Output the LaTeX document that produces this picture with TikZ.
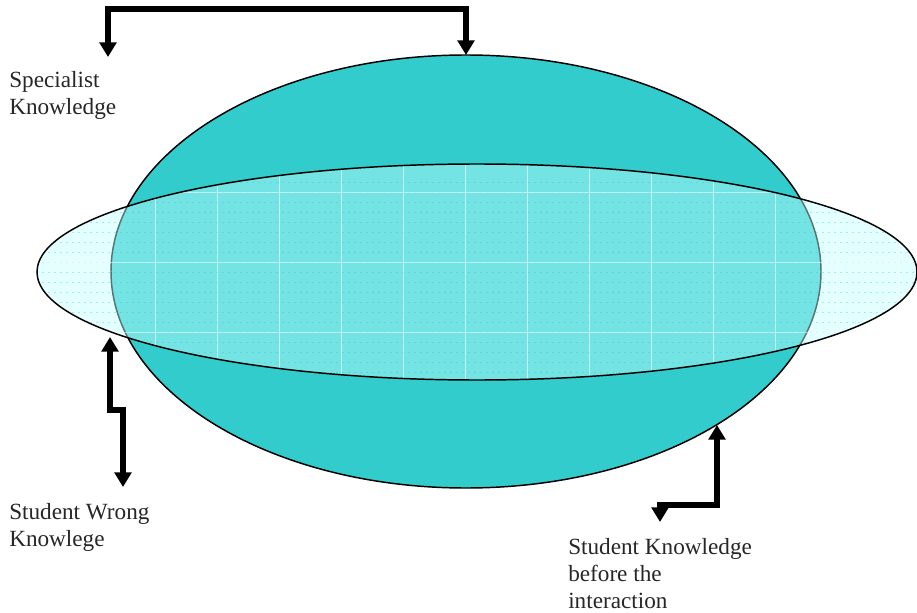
\documentclass[tikz,border=0pt]{standalone}
\usepackage{fontspec}
\setmainfont{Liberation Serif}
\usetikzlibrary{arrows.meta,shapes.geometric}
\definecolor{tealA}{HTML}{33CCCC}
\definecolor{lightC}{RGB}{196,255,255}
\definecolor{gridC}{HTML}{2EC4C4}
\begin{document}
\begin{tikzpicture}[x=0.75pt,y=-0.75pt,
  conn/.style={line width=3.8pt, line join=miter, {Triangle[width=12.5pt,length=11pt]}-{Triangle[width=12.5pt,length=11pt]}},
  lbl/.style={anchor=north west, inner sep=0pt, align=left,
              font=\fontsize{17.4}{20.2}\selectfont, text=black!85},
  oval/.style={ellipse, inner sep=0pt, outer sep=0pt, line width=1.1pt}]
\useasboundingbox (0,0) rectangle (917,613);
% big ellipse (specialist knowledge)
\node[oval, draw, fill=tealA, minimum width=532.5pt, minimum height=324.75pt] (big) at (466,271.5) {};
% flat ellipse (student knowledge)
\node[oval, fill=lightC, fill opacity=0.45, minimum width=660pt, minimum height=162pt] (flat) at (477,272) {};
\begin{scope}
  \clip (477,272) ellipse [x radius=440, y radius=108];
  \foreach \y in {182,192,...,372}
    \draw[gridC, opacity=0.35, line width=0.6pt, dash pattern=on 1.5pt off 3pt] (30,\y) -- (917,\y);
  \foreach \y in {192,262,332}
    \draw[white, opacity=0.55, line width=0.6pt] (30,\y) -- (917,\y);
  \foreach \x in {155,217,...,900}
    \draw[white, opacity=0.55, line width=0.7pt] (\x,150) -- (\x,390);
\end{scope}
\node[oval, draw, minimum width=660pt, minimum height=162pt] (flatO) at (477,272) {};
% labels
\node[lbl] (spec) at (9,71) {Specialist\\Knowledge};
\node[lbl] (wrong) at (9,503) {Student Wrong\\Knowlege};
\node[lbl] (before) at (568,538) {Student Knowledge\\before the\\interaction};
% connectors
\coordinate (specTip) at (108,57);
\coordinate (wrongTop) at (110,337);
\coordinate (wrongBot) at (123,487);
\coordinate (befTop) at (717,425);
\coordinate (befBot) at (660,522);
\draw[conn] (specTip) -- (108,9) -| (big.north);
\draw[conn] (wrongTop) -- (110,410) -- (123,410) -- (wrongBot);
\draw[conn] (befTop) -- (717,505) -| (befBot);
\end{tikzpicture}
\end{document}
